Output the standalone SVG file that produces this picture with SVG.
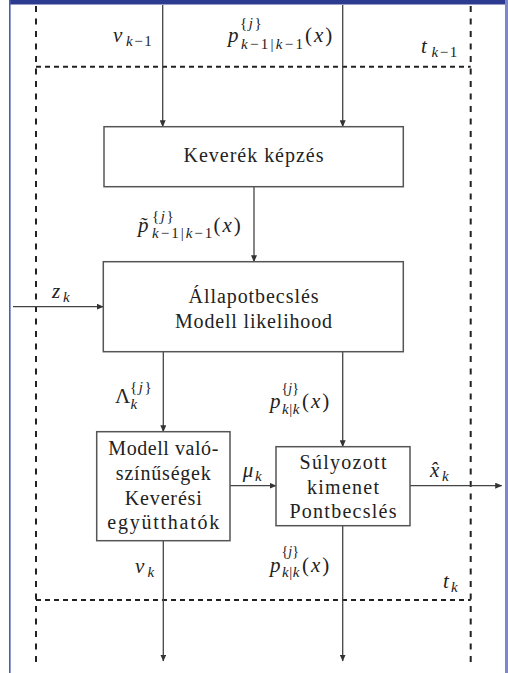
<svg xmlns="http://www.w3.org/2000/svg" width="508" height="673" viewBox="0 0 508 673">
<defs>
<marker id="ah" markerWidth="7" markerHeight="6" refX="6.5" refY="3" orient="auto" markerUnits="userSpaceOnUse">
<path d="M0,0 L7,3 L0,6 Z" fill="#333"/>
</marker>
<style>
text{font-family:"Liberation Serif","Times New Roman",serif;fill:#222}
.box{fill:#fff;stroke:#555;stroke-width:1.5}
.t{font-size:20px;text-anchor:middle}
.m{font-size:21px}
.i{font-style:italic}
.s{font-size:15px}
.c{fill:none;stroke:#444;stroke-width:1.3;marker-end:url(#ah)}
.dh{fill:none;stroke:#222;stroke-width:2;stroke-dasharray:5 4}
.dv{fill:none;stroke:#222;stroke-width:2;stroke-dasharray:6 6.5}
</style>
</defs>
<rect x="0" y="0" width="508" height="673" fill="#fff"/>
<rect x="9" y="0" width="499" height="4.5" fill="#2c3b8f"/>
<rect x="9" y="0" width="1.6" height="673" fill="#4a5cb8"/>
<rect x="505" y="0" width="3" height="673" fill="#7c88c8"/>

<g id="frame">
<line class="dv" x1="36" y1="6" x2="36" y2="662"/>
<line class="dv" x1="470.7" y1="6" x2="470.7" y2="662"/>
<line class="dh" x1="36" y1="66.7" x2="470.7" y2="66.7"/>
<line class="dh" x1="36" y1="600" x2="470.7" y2="600"/>
</g>

<g id="connectors">
<line class="c" x1="162.7" y1="5" x2="162.7" y2="126.7"/>
<line class="c" x1="342.7" y1="5" x2="342.7" y2="126.7"/>
<line class="c" x1="254" y1="186.7" x2="254" y2="261.7"/>
<line class="c" x1="13" y1="306.7" x2="103.3" y2="306.7"/>
<line class="c" x1="163.3" y1="351.7" x2="163.3" y2="431.7"/>
<line class="c" x1="342.7" y1="351.7" x2="342.7" y2="446.7"/>
<line class="c" x1="230" y1="485.7" x2="276" y2="485.7"/>
<line class="c" x1="410" y1="485.7" x2="501.7" y2="485.7"/>
<line class="c" x1="163.3" y1="540.7" x2="163.3" y2="661"/>
<line class="c" x1="342.7" y1="525.7" x2="342.7" y2="661"/>
</g>

<g id="keverek">
<rect class="box" x="104" y="126.7" width="299.3" height="60"/>
<text class="t" x="253.5" y="161.5" textLength="140" lengthAdjust="spacing">Keverék képzés</text>
</g>

<g id="allapot">
<rect class="box" x="103.3" y="261.7" width="300" height="90"/>
<text class="t" x="253.5" y="303" textLength="130" lengthAdjust="spacing">Állapotbecslés</text>
<text class="t" x="253.5" y="328" textLength="157" lengthAdjust="spacing">Modell likelihood</text>
</g>

<g id="modellval">
<rect class="box" x="96.7" y="431.7" width="133.3" height="109"/>
<text class="t" x="163.3" y="454.5" textLength="110" lengthAdjust="spacing">Modell való-</text>
<text class="t" x="163.3" y="479.5" textLength="95" lengthAdjust="spacing">színűségek</text>
<text class="t" x="163.3" y="504.5" textLength="77" lengthAdjust="spacing">Keverési</text>
<text class="t" x="163.3" y="529" textLength="112" lengthAdjust="spacing">együtthatók</text>
</g>

<g id="sulyozott">
<rect class="box" x="276" y="446.7" width="134" height="79"/>
<text class="t" x="343" y="468.5" textLength="87" lengthAdjust="spacing">Súlyozott</text>
<text class="t" x="343" y="493.5" textLength="72" lengthAdjust="spacing">kimenet</text>
<text class="t" x="343" y="518" textLength="107" lengthAdjust="spacing">Pontbecslés</text>
</g>

<g id="labels">
<!-- nu_{k-1} -->
<text class="m"><tspan class="i" x="113" y="41.7">ν</tspan><tspan class="s" x="126" y="46" letter-spacing="1.5"><tspan class="i">k</tspan>−1</tspan></text>
<!-- p^{j}_{k-1|k-1}(x) top -->
<text class="m"><tspan class="i" x="228" y="42">p</tspan><tspan class="s" x="241" y="49" letter-spacing="2.3"><tspan class="i">k</tspan>−1|<tspan class="i">k</tspan>−1</tspan><tspan x="305" y="42" letter-spacing="2">(<tspan class="i">x</tspan>)</tspan></text>
<text class="s" x="240" y="28" letter-spacing="1.5">{<tspan class="i">j</tspan>}</text>
<!-- t_{k-1} -->
<text class="m"><tspan class="i" x="421" y="53.3">t</tspan><tspan class="s" x="431.5" y="57" letter-spacing="1.5"><tspan class="i">k</tspan>−1</tspan></text>
<!-- p tilde -->
<text class="m"><tspan class="i" x="138" y="231.7">p̃</tspan><tspan class="s" x="152" y="238" letter-spacing="2"><tspan class="i">k</tspan>−1|<tspan class="i">k</tspan>−1</tspan><tspan x="213.5" y="231.7" letter-spacing="2">(<tspan class="i">x</tspan>)</tspan></text>
<text class="s" x="152" y="221" letter-spacing="1.5">{<tspan class="i">j</tspan>}</text>
<!-- z_k -->
<text class="m"><tspan class="i" x="52" y="298.3">z</tspan><tspan class="s i" x="63" y="302">k</tspan></text>
<!-- Lambda -->
<text class="m" x="115" y="403">Λ</text>
<text class="s" x="130" y="391.5" letter-spacing="1.5">{<tspan class="i">j</tspan>}</text>
<text class="s i" x="130.5" y="408.5">k</text>
<!-- p_{k|k} mid -->
<text class="m"><tspan class="i" x="270" y="408.3">p</tspan><tspan class="s" x="282" y="413.5" letter-spacing="0.5"><tspan class="i">k</tspan>|<tspan class="i">k</tspan></tspan><tspan x="302" y="408.3" letter-spacing="2">(<tspan class="i">x</tspan>)</tspan></text>
<text class="s" x="281.5" y="392.5" style="font-size:14px">{<tspan class="i">j</tspan>}</text>
<!-- mu_k -->
<text class="m"><tspan class="i" x="242.7" y="476.7">μ</tspan><tspan class="s i" x="255" y="480.5">k</tspan></text>
<!-- x hat_k -->
<text class="m"><tspan class="i" x="430" y="476.7">x̂</tspan><tspan class="s i" x="442" y="480.5">k</tspan></text>
<!-- nu_k -->
<text class="m"><tspan class="i" x="135" y="572.7">ν</tspan><tspan class="s i" x="147.5" y="576.5">k</tspan></text>
<!-- p_{k|k} bottom -->
<text class="m"><tspan class="i" x="270" y="571.7">p</tspan><tspan class="s" x="282" y="577" letter-spacing="0.5"><tspan class="i">k</tspan>|<tspan class="i">k</tspan></tspan><tspan x="302" y="571.7" letter-spacing="2">(<tspan class="i">x</tspan>)</tspan></text>
<text class="s" x="281.5" y="556" style="font-size:14px">{<tspan class="i">j</tspan>}</text>
<!-- t_k -->
<text class="m"><tspan class="i" x="443" y="588.3">t</tspan><tspan class="s i" x="451" y="592">k</tspan></text>
</g>
</svg>
